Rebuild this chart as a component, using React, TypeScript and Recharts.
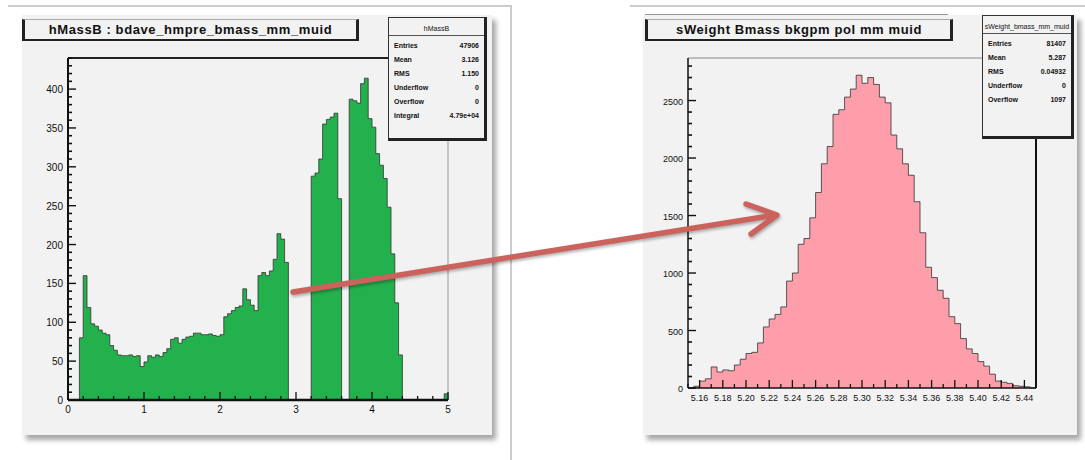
import React from 'react';
import { ComposedChart, Area, XAxis, YAxis, ReferenceLine } from 'recharts';

// left histogram: 100 bins of 0.05 from 0 to 5
const leftBinStart = 0;
const leftBinWidth = 0.05;
const leftCounts = [
  0, 0, 0, 80, 160, 119, 98, 95, 90, 86,
  84, 70, 64, 58, 57, 57, 58, 56, 57, 43,
  49, 57, 55, 58, 56, 61, 66, 78, 80, 73,
  78, 81, 82, 86, 86, 84, 84, 85, 83, 82,
  84, 107, 111, 115, 119, 121, 143, 129, 122, 115,
  160, 164, 160, 166, 181, 214, 207, 177, 0, 0,
  0, 0, 0, 0, 288, 292, 310, 355, 361, 364,
  369, 259, 0, 0, 387, 385, 382, 407, 414, 362,
  351, 317, 302, 285, 248, 188, 125, 58, 0, 0,
  0, 0, 0, 0, 0, 0, 0, 0, 0, 8,
];
const leftXMajor = [0, 1, 2, 3, 4, 5];
const leftYMajor = [0, 50, 100, 150, 200, 250, 300, 350, 400];

// right histogram: 60 bins of 0.005 from 5.15 to 5.45
const rightBinStart = 5.15;
const rightBinWidth = 0.005;
const rightCounts = [
  0, 15, 60, 80, 183, 139, 157, 150, 200, 250,
  300, 310, 392, 531, 600, 640, 705, 930, 1000, 1250,
  1300, 1480, 1700, 1950, 2100, 2380, 2420, 2530, 2600, 2720,
  2650, 2700, 2640, 2530, 2480, 2200, 2080, 1950, 1850, 1620,
  1350, 1050, 960, 850, 780, 620, 560, 430, 340, 300,
  230, 190, 120, 60, 50, 40, 20, 15, 10, 0,
];
const rightXMajor = [5.16, 5.18, 5.2, 5.22, 5.24, 5.26, 5.28, 5.3, 5.32, 5.34, 5.36, 5.38, 5.4, 5.42, 5.44];
const rightYMajor = [0, 500, 1000, 1500, 2000, 2500];

const leftStats = [
  ['Entries', '47906'],
  ['Mean', '3.126'],
  ['RMS', '1.150'],
  ['Underflow', '0'],
  ['Overflow', '0'],
  ['Integral', '4.79e+04'],
];
const rightStats = [
  ['Entries', '81407'],
  ['Mean', '5.287'],
  ['RMS', '0.04932'],
  ['Underflow', '0'],
  ['Overflow', '1097'],
];

const font = '"Liberation Sans", Arial, sans-serif';

const makeBins = (start: number, width: number, counts: number[]) => {
  const pts = counts.map((v, i) => ({ x: +(start + i * width).toFixed(4), v }));
  pts.push({ x: +(start + counts.length * width).toFixed(4), v: 0 });
  return pts;
};

const range = (from: number, to: number, step: number) => {
  const out: number[] = [];
  for (let k = 0; from + k * step <= to + 1e-9; k++) out.push(+(from + k * step).toFixed(4));
  return out;
};

const yTick = (majors: number[], fontSize: number) => (p: any) => {
  const v = p.payload.value;
  const major = majors.includes(v);
  return (
    <g>
      <line x1={p.x} y1={p.y} x2={p.x + (major ? 8 : 4)} y2={p.y} stroke="#111" strokeWidth={major ? 1.4 : 1.6} />
      {major && (
        <text x={p.x - 5} y={p.y} dy={4} textAnchor="end" fontSize={fontSize} fontFamily={font} fill="#111">
          {v}
        </text>
      )}
    </g>
  );
};

const xTick = (majors: number[], fontSize: number, fmt: (v: number) => string) => (p: any) => {
  const v = p.payload.value;
  const major = majors.includes(v);
  return (
    <g>
      <line x1={p.x} y1={p.y} x2={p.x} y2={p.y - (major ? 8 : 4)} stroke="#111" strokeWidth={1.3} />
      {major && (
        <text x={p.x} y={p.y + 13} textAnchor="middle" fontSize={fontSize} fontFamily={font} fill="#111">
          {fmt(v)}
        </text>
      )}
    </g>
  );
};

const StatsBox = ({ left, top, width, height, title, rows }: any) => (
  <div
    style={{
      position: 'absolute', left, top, width, height, background: '#f2f2f2',
      borderLeft: '1px solid #333', borderTop: '1px solid #333',
      borderRight: '3px solid #222', borderBottom: '3px solid #222',
      fontFamily: font, fontSize: 7, color: '#111', boxSizing: 'border-box', zIndex: 3,
    }}
  >
    <div style={{ textAlign: 'center', marginTop: 7, borderBottom: '1px solid #555', paddingBottom: 3 }}>{title}</div>
    {rows.map((r: string[], i: number) => (
      <div key={i} style={{ display: 'flex', justifyContent: 'space-between', padding: '0 5px', marginTop: i === 0 ? 6 : 7, fontWeight: 700 }}>
        <span>{r[0]}</span>
        <span>{r[1]}</span>
      </div>
    ))}
  </div>
);

const TitleBox = ({ left, top, width, text }: any) => (
  <div
    style={{
      position: 'absolute', left, top, width, height: 22, boxSizing: 'border-box',
      borderLeft: '3px solid #222', borderRight: '3px solid #222', borderBottom: '2px solid #222',
      borderTop: '1px solid #aaa', fontFamily: font, fontSize: 13, fontWeight: 700,
      textAlign: 'center', lineHeight: '20px', color: '#111', letterSpacing: 0.6, zIndex: 3, whiteSpace: 'nowrap',
    }}
  >
    {text}
  </div>
);

export default function App() {
  const leftData = makeBins(leftBinStart, leftBinWidth, leftCounts);
  const rightData = makeBins(rightBinStart, rightBinWidth, rightCounts);
  const leftXTicks = range(0, 5, 0.2);
  const leftYTicks = range(0, 440, 10);
  const rightXTicks = range(5.15, 5.45, 0.01);
  const rightYTicks = range(0, 2800, 100);

  return (
    <div style={{ position: 'absolute', left: 0, top: 0, width: 1085, height: 460, background: '#fff', overflow: 'hidden' }}>
      {/* screenshot borders */}
      <div style={{ position: 'absolute', left: 8, top: 5, width: 504, height: 455, borderTop: '2px solid #ccc', borderRight: '2px solid #ccc', boxSizing: 'border-box' }} />
      <div style={{ position: 'absolute', left: 630, top: 5, width: 455, height: 2, background: '#ccc' }} />

      {/* left pad */}
      <div style={{ position: 'absolute', left: 22, top: 15, width: 470, height: 420, background: '#f2f2f2', boxShadow: '4px 5px 5px rgba(0,0,0,0.35)' }} />
      <TitleBox left={22} top={19} width={337} text="hMassB : bdave_hmpre_bmass_mm_muid" />
      <StatsBox left={388} top={17} width={99} height={124} title="hMassB" rows={leftStats} />
      <div style={{ position: 'absolute', left: 30, top: 48, zIndex: 2 }}>
        <ComposedChart width={440} height={380} data={leftData} margin={{ top: 10, right: 22, bottom: 8, left: 8 }}>
          <XAxis
            dataKey="x" type="number" domain={[0, 5]} ticks={leftXTicks} interval={0}
            tickSize={0} tickMargin={0} height={20} axisLine={{ stroke: '#111', strokeWidth: 2.5 }}
            tickLine={false} tick={xTick(leftXMajor, 10, (v) => String(v))}
          />
          <YAxis
            type="number" domain={[0, 440]} ticks={leftYTicks} interval={0} width={30}
            tickSize={0} tickMargin={0} axisLine={{ stroke: '#111', strokeWidth: 2 }}
            tickLine={false} tick={yTick(leftYMajor, 10)}
          />
          <ReferenceLine y={440} stroke="#222" strokeWidth={2} />
          <ReferenceLine x={5} stroke="#999" strokeWidth={1} />
          <Area
            type="stepAfter" dataKey="v" fill="#23b14d" fillOpacity={1} stroke="#333" strokeWidth={1}
            strokeOpacity={0.8} dot={false} activeDot={false} isAnimationActive={false}
          />
        </ComposedChart>
      </div>

      {/* right pad */}
      <div style={{ position: 'absolute', left: 643, top: 15, width: 434, height: 420, background: '#f2f2f2', boxShadow: '4px 5px 5px rgba(0,0,0,0.35)' }} />
      <div style={{ position: 'absolute', left: 645, top: 14, width: 303, height: 1, background: '#999', zIndex: 3 }} />
      <TitleBox left={645} top={19} width={308} text="sWeight Bmass bkgpm pol mm muid" />
      <StatsBox left={982} top={15} width={92} height={124} title="sWeight_bmass_mm_muid" rows={rightStats} />
      <div style={{ position: 'absolute', left: 650, top: 48, zIndex: 2 }}>
        <ComposedChart width={400} height={370} data={rightData} margin={{ top: 10, right: 14, bottom: 10, left: 8 }}>
          <XAxis
            dataKey="x" type="number" domain={[5.15, 5.45]} ticks={rightXTicks} interval={0}
            tickSize={0} tickMargin={0} height={20} axisLine={{ stroke: '#111', strokeWidth: 1.5 }}
            tickLine={false} tick={xTick(rightXMajor, 9, (v) => v.toFixed(2))}
          />
          <YAxis
            type="number" domain={[0, 2870]} ticks={rightYTicks} interval={0} width={30}
            tickSize={0} tickMargin={0} axisLine={{ stroke: '#111', strokeWidth: 1.5 }}
            tickLine={false} tick={yTick(rightYMajor, 9)}
          />
          <ReferenceLine y={2870} stroke="#888" strokeWidth={1} />
          <ReferenceLine x={5.45} stroke="#111" strokeWidth={2} />
          <Area
            type="stepAfter" dataKey="v" fill="#fe9eab" fillOpacity={1} stroke="#333" strokeWidth={1}
            strokeOpacity={0.8} dot={false} activeDot={false} isAnimationActive={false}
          />
        </ComposedChart>
      </div>

      {/* arrow */}
      <svg width={1085} height={460} style={{ position: 'absolute', left: 0, top: 0, zIndex: 5, pointerEvents: 'none' }}>
        <g stroke="#cb625b" strokeWidth={5.5} strokeLinecap="round" strokeLinejoin="round" fill="none" style={{ filter: 'drop-shadow(1px 2px 1.5px rgba(0,0,0,0.3))' }}>
          <line x1={293} y1={292} x2={775} y2={215} />
          <polyline points="746,204 777,215 751,234" />
        </g>
      </svg>
    </div>
  );
}
